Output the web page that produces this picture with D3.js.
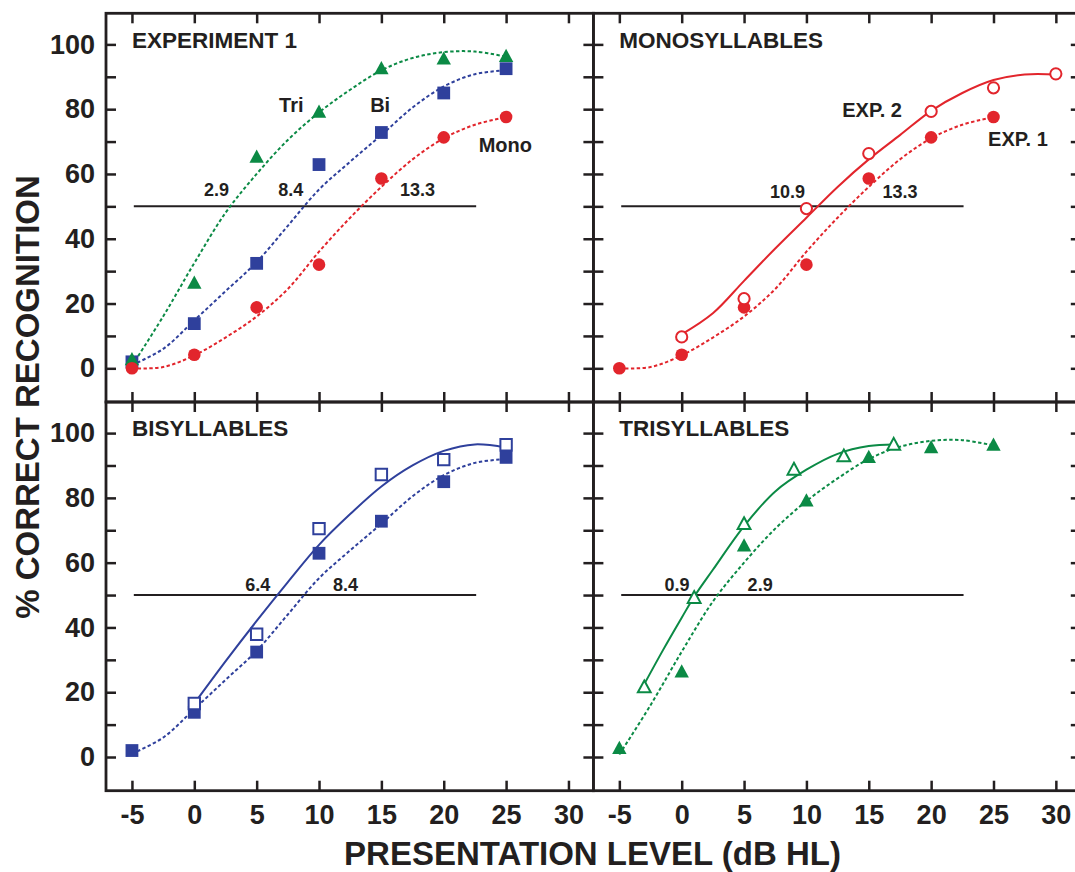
<!DOCTYPE html>
<html>
<head>
<meta charset="utf-8">
<script src="https://cdnjs.cloudflare.com/ajax/libs/d3/7.8.5/d3.min.js"></script>
<style>
    body { margin: 0; background: #fff; }
    text { font-family: "Liberation Sans", Arial, Helvetica, sans-serif; font-weight: bold; fill: #231f20; }
</style>
</head>
<body>
<div id="chart"></div>
<script>
// Measured scores (% correct) at each presentation level (dB HL)
const levels = [-5, 0, 5, 10, 15, 20, 25]
const monoExp1 = [0, 4.2, 18.8, 32, 58.6, 71.3, 77.6]
const biExp1 = [2, 13.8, 32.4, 62.9, 72.8, 85, 92.5]
const triExp1 = [3, 26.6, 65.5, 79.4, 92.8, 95.8, 96.6]

const monoExp2Levels = [0, 5, 10, 15, 20, 25, 30]
const monoExp2 = [9.7, 21.5, 49.3, 66.3, 79.3, 86.6, 90.9]
const biExp2Levels = [0, 5, 10, 15, 20, 25]
const biExp2 = [16.5, 37.9, 70.5, 87.2, 91.8, 96.4]
const triExp2Levels = [-3, 1, 5, 9, 13, 17]
const triExp2 = [21.8, 49.4, 72.2, 89, 93.1, 96.7]

// Fitted curves
const fitLevels = [-5, -2.5, 0, 2.5, 5, 7.5, 10, 12.5, 15, 17.5, 20, 22.5, 25]
const monoFit1 = [0, 0.4, 4, 9.5, 16, 24.5, 36, 46.5, 56, 64.5, 71, 75.2, 77.5]
const biFit1 = [1, 6, 14.8, 23.8, 32.8, 44, 55.2, 63.8, 72, 80.5, 87, 90.8, 92]
const triFit1 = [0.8, 16, 32.5, 48, 60, 70.5, 79, 86, 92, 95.8, 97.6, 97.8, 96.2]

const monoFit2Levels = [0, 2.5, 5, 7.5, 10, 12.5, 15, 17.5, 20, 22.5, 25, 27.5, 30]
const monoFit2 = [10.5, 17, 27, 37, 46.5, 56, 64.5, 72, 79.5, 85, 89, 90.7, 90.7]
const biFit2Levels = [0, 2.5, 5, 7.5, 10, 12.5, 15, 17.5, 20, 22.5, 25]
const biFit2 = [16.5, 29.5, 42, 54, 65.5, 75, 83.5, 90, 94.5, 96.5, 95.5]
const triFit2Levels = [-3, -1.5, 0, 1, 2.5, 5, 7.5, 10, 12.5, 15, 17]
const triFit2 = [22.5, 33, 43, 49.5, 57.8, 71.3, 82, 88.7, 93.6, 96, 96.5]

// 50% reference line
const criterion = 50
const criterionRange = [-4.85, 22.6]

// Axis ticks
const xTicks = [-5, 0, 5, 10, 15, 20, 25, 30]
const yTicks = [0, 10, 20, 30, 40, 50, 60, 70, 80, 90, 100]

const red = "#e2252c"
const blue = "#2f409c"
const green = "#0b8a45"
const ink = "#231f20"

const panels = [
    {
        title: "EXPERIMENT 1", col: 0, row: 0,
        fits: [
            { xs: fitLevels, ys: triFit1, color: green, dashed: true },
            { xs: fitLevels, ys: biFit1, color: blue, dashed: true },
            { xs: fitLevels, ys: monoFit1, color: red, dashed: true }
        ],
        points: [
            { xs: levels, ys: biExp1, color: blue, shape: "square", filled: true },
            { xs: levels, ys: triExp1, color: green, shape: "triangle", filled: true },
            { xs: levels, ys: monoExp1, color: red, shape: "circle", filled: true }
        ],
        labels: [
            { text: "Tri", x: 6.8, y: 79.1, size: 20, anchor: "start" },
            { text: "Bi", x: 14.1, y: 79.1, size: 20, anchor: "start" },
            { text: "Mono", x: 22.8, y: 66.8, size: 20, anchor: "start" },
            { text: "2.9", x: 1.78, y: 53.2, size: 18, anchor: "middle" },
            { text: "8.4", x: 7.73, y: 53.2, size: 18, anchor: "middle" },
            { text: "13.3", x: 17.9, y: 53.2, size: 18, anchor: "middle" }
        ]
    },
    {
        title: "MONOSYLLABLES", col: 1, row: 0,
        fits: [
            { xs: fitLevels, ys: monoFit1, color: red, dashed: true },
            { xs: monoFit2Levels, ys: monoFit2, color: red, dashed: false }
        ],
        points: [
            { xs: levels, ys: monoExp1, color: red, shape: "circle", filled: true },
            { xs: monoExp2Levels, ys: monoExp2, color: red, shape: "circle", filled: false }
        ],
        labels: [
            { text: "EXP. 2", x: 12.87, y: 77.6, size: 20, anchor: "start" },
            { text: "EXP. 1", x: 24.57, y: 68.6, size: 20, anchor: "start" },
            { text: "10.9", x: 8.48, y: 52.6, size: 18, anchor: "middle" },
            { text: "13.3", x: 17.5, y: 52.6, size: 18, anchor: "middle" }
        ]
    },
    {
        title: "BISYLLABLES", col: 0, row: 1,
        fits: [
            { xs: fitLevels, ys: biFit1, color: blue, dashed: true },
            { xs: biFit2Levels, ys: biFit2, color: blue, dashed: false }
        ],
        points: [
            { xs: levels, ys: biExp1, color: blue, shape: "square", filled: true },
            { xs: biExp2Levels, ys: biExp2, color: blue, shape: "square", filled: false }
        ],
        labels: [
            { text: "6.4", x: 5.08, y: 51.4, size: 18, anchor: "middle" },
            { text: "8.4", x: 12.12, y: 51.4, size: 18, anchor: "middle" }
        ]
    },
    {
        title: "TRISYLLABLES", col: 1, row: 1,
        fits: [
            { xs: fitLevels, ys: triFit1, color: green, dashed: true },
            { xs: triFit2Levels, ys: triFit2, color: green, dashed: false }
        ],
        points: [
            { xs: levels, ys: triExp1, color: green, shape: "triangle", filled: true },
            { xs: triExp2Levels, ys: triExp2, color: green, shape: "triangle", filled: false }
        ],
        labels: [
            { text: "0.9", x: -0.37, y: 51.4, size: 18, anchor: "middle" },
            { text: "2.9", x: 6.29, y: 51.4, size: 18, anchor: "middle" }
        ]
    }
]

// Set dimensions
const dimensions = {
    width: 1075,
    height: 872,
    margins: { top: 13.3, left: 106 },
    panelWidth: 487.4,
    panelHeight: 388.7
}

const wrapper = d3.select("#chart").append("svg")
    .attr("width", dimensions.width)
    .attr("height", dimensions.height)
    .style("display", "block")

const xScale = d3.scaleLinear()
    .domain([-7.08, 32])
    .range([0, dimensions.panelWidth])

const yScale = d3.scaleLinear()
    .domain([-10.4, 109.6])
    .range([dimensions.panelHeight, 0])

const lineGenerator = d3.line()
    .x(d => xScale(d[0]))
    .y(d => yScale(d[1]))
    .curve(d3.curveCatmullRom.alpha(0.5))

const markerPath = (shape, filled) => {
    if (shape === "circle") {
        const r = filled ? 6.3 : 5.6
        return `M${-r},0A${r},${r} 0 1,0 ${r},0A${r},${r} 0 1,0 ${-r},0Z`
    }
    if (shape === "square") {
        const h = filled ? 6.4 : 5.7
        return `M${-h},${-h}H${h}V${h}H${-h}Z`
    }
    const w = filled ? 7.2 : 6.4
    const h = filled ? 6.6 : 5.9
    return `M0,${-h}L${w},${h}L${-w},${h}Z`
}

panels.forEach(panel => {
    const bounds = wrapper.append("g")
        .attr("transform", `translate(${dimensions.margins.left + panel.col * dimensions.panelWidth}, ${dimensions.margins.top + panel.row * dimensions.panelHeight})`)

    // Inward ticks on all four sides
    const bottomAxis = d3.axisBottom(xScale)
        .tickValues(xTicks)
        .tickSizeInner(-10).tickSizeOuter(0).tickPadding(14)
        .tickFormat(d => panel.row === 1 ? String(d) : "")
    const topAxis = d3.axisTop(xScale)
        .tickValues(xTicks)
        .tickSizeInner(-10).tickSizeOuter(0)
        .tickFormat("")
    const leftAxis = d3.axisLeft(yScale)
        .tickValues(yTicks)
        .tickSizeInner(-10).tickSizeOuter(0).tickPadding(11)
        .tickFormat(d => panel.col === 0 && d % 20 === 0 ? String(d) : "")
    const rightAxis = d3.axisRight(yScale)
        .tickValues(yTicks)
        .tickSizeInner(-10).tickSizeOuter(0)
        .tickFormat("")

    const axes = [
        bounds.append("g").attr("transform", `translate(0, ${dimensions.panelHeight})`).call(bottomAxis),
        bounds.append("g").call(topAxis),
        bounds.append("g").call(leftAxis),
        bounds.append("g").attr("transform", `translate(${dimensions.panelWidth}, 0)`).call(rightAxis)
    ]
    axes.forEach(axis => {
        axis.select(".domain").remove()
        axis.selectAll(".tick line").attr("stroke", ink).attr("stroke-width", 2.5)
        axis.selectAll(".tick text")
            .attr("font-size", 27)
            .attr("font-family", "'Liberation Sans', Arial, sans-serif")
            .attr("font-weight", "bold")
            .attr("fill", ink)
    })

    // Frame
    bounds.append("rect")
        .attr("width", dimensions.panelWidth)
        .attr("height", dimensions.panelHeight)
        .attr("fill", "none")
        .attr("stroke", ink)
        .attr("stroke-width", 2.8)

    // 50% criterion line
    bounds.append("line")
        .attr("x1", xScale(criterionRange[0]))
        .attr("x2", xScale(criterionRange[1]))
        .attr("y1", yScale(criterion))
        .attr("y2", yScale(criterion))
        .attr("stroke", ink)
        .attr("stroke-width", 2)

    // Fitted curves
    panel.fits.forEach(fit => {
        bounds.append("path")
            .attr("d", lineGenerator(fit.xs.map((x, i) => [x, fit.ys[i]])))
            .attr("fill", "none")
            .attr("stroke", fit.color)
            .attr("stroke-width", 2)
            .attr("stroke-dasharray", fit.dashed ? "3.4,2.4" : null)
    })

    // Data points
    panel.points.forEach(series => {
        bounds.append("g")
            .selectAll("path")
            .data(series.xs.map((x, i) => [x, series.ys[i]]))
            .join("path")
            .attr("transform", d => `translate(${xScale(d[0])}, ${yScale(d[1])})`)
            .attr("d", markerPath(series.shape, series.filled))
            .attr("fill", series.filled ? series.color : "#fff")
            .attr("stroke", series.filled ? "none" : series.color)
            .attr("stroke-width", 2)
    })

    // Panel title and annotations
    bounds.append("text")
        .attr("x", xScale(-5))
        .attr("y", yScale(99))
        .attr("font-size", 22.5)
        .text(panel.title)

    panel.labels.forEach(label => {
        bounds.append("text")
            .attr("x", xScale(label.x))
            .attr("y", yScale(label.y))
            .attr("font-size", label.size)
            .attr("text-anchor", label.anchor)
            .text(label.text)
    })
})

// Shared axis titles
wrapper.append("text")
    .attr("transform", "translate(38.5, 397) rotate(-90)")
    .attr("text-anchor", "middle")
    .attr("font-size", 33)
    .text("% CORRECT RECOGNITION")

wrapper.append("text")
    .attr("x", 592.5)
    .attr("y", 864.5)
    .attr("text-anchor", "middle")
    .attr("font-size", 33)
    .text("PRESENTATION LEVEL (dB HL)")
</script>
</body>
</html>
